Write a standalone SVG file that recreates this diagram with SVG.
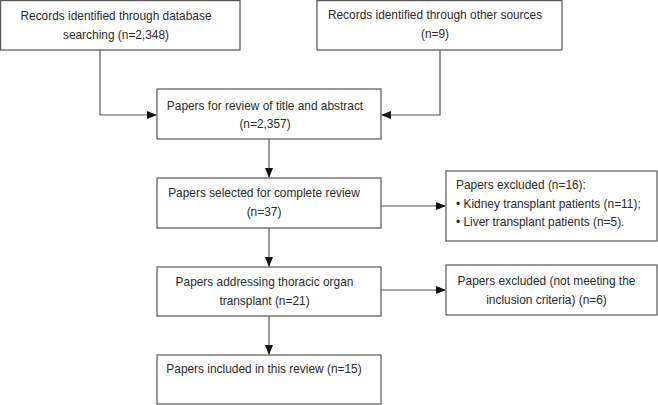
<svg xmlns="http://www.w3.org/2000/svg" width="658" height="405" viewBox="0 0 658 405">
<defs>
<style>
.box{fill:#fff;stroke:#555;stroke-width:1.2}
.t{font-family:"Liberation Sans",Arial,sans-serif;font-size:11.9px;fill:#2a2a2a}
.c{text-anchor:middle}
.ln{fill:none;stroke:#555;stroke-width:1.2}
</style>
<marker id="ah" markerWidth="10" markerHeight="8" refX="9" refY="4" orient="auto" markerUnits="userSpaceOnUse">
<path d="M0,0 L10,4 L0,8 Z" fill="#111"/>
</marker>
</defs>
<rect width="658" height="405" fill="#fff"/>
<g id="connectors">
<path class="ln" d="M100,50 V115 H156" marker-end="url(#ah)"/>
<path class="ln" d="M440,50 V115 H382" marker-end="url(#ah)"/>
<path class="ln" d="M269,139 V177" marker-end="url(#ah)"/>
<path class="ln" d="M381,206 H445" marker-end="url(#ah)"/>
<path class="ln" d="M269,228 V266" marker-end="url(#ah)"/>
<path class="ln" d="M381,290 H445" marker-end="url(#ah)"/>
<path class="ln" d="M269,316 V354" marker-end="url(#ah)"/>
</g>
<g id="n1">
<rect class="box" x="0.6" y="0.6" width="239.4" height="49.4"/>
<text class="t c" x="116" y="20">Records identified through database</text>
<text class="t c" x="116" y="39">searching (n=2,348)</text>
</g>
<g id="n2">
<rect class="box" x="317" y="0.6" width="245" height="49.4"/>
<text class="t c" x="435" y="19">Records identified through other sources</text>
<text class="t c" x="435" y="38">(n=9)</text>
</g>
<g id="n3">
<rect class="box" x="157" y="89" width="224" height="50"/>
<text class="t c" x="265" y="110">Papers for review of title and abstract</text>
<text class="t c" x="265" y="128">(n=2,357)</text>
</g>
<g id="n4">
<rect class="box" x="157" y="178" width="224" height="50"/>
<text class="t c" x="264" y="197">Papers selected for complete review</text>
<text class="t c" x="264" y="216">(n=37)</text>
</g>
<g id="n5">
<rect class="box" x="446" y="171" width="211" height="70"/>
<text class="t" x="456" y="189">Papers excluded (n=16):</text>
<text class="t" x="456" y="208">• Kidney transplant patients (n=11);</text>
<text class="t" x="456" y="226">• Liver transplant patients (n=5).</text>
</g>
<g id="n6">
<rect class="box" x="157" y="267" width="224" height="49"/>
<text class="t c" x="264.5" y="286">Papers addressing thoracic organ</text>
<text class="t c" x="264.5" y="305">transplant (n=21)</text>
</g>
<g id="n7">
<rect class="box" x="446" y="265" width="211" height="50"/>
<text class="t c" x="546.5" y="285">Papers excluded (not meeting the</text>
<text class="t c" x="546.5" y="304">inclusion criteria) (n=6)</text>
</g>
<g id="n8">
<rect class="box" x="157" y="355" width="224" height="49"/>
<text class="t c" x="264" y="373">Papers included in this review (n=15)</text>
</g>
</svg>
